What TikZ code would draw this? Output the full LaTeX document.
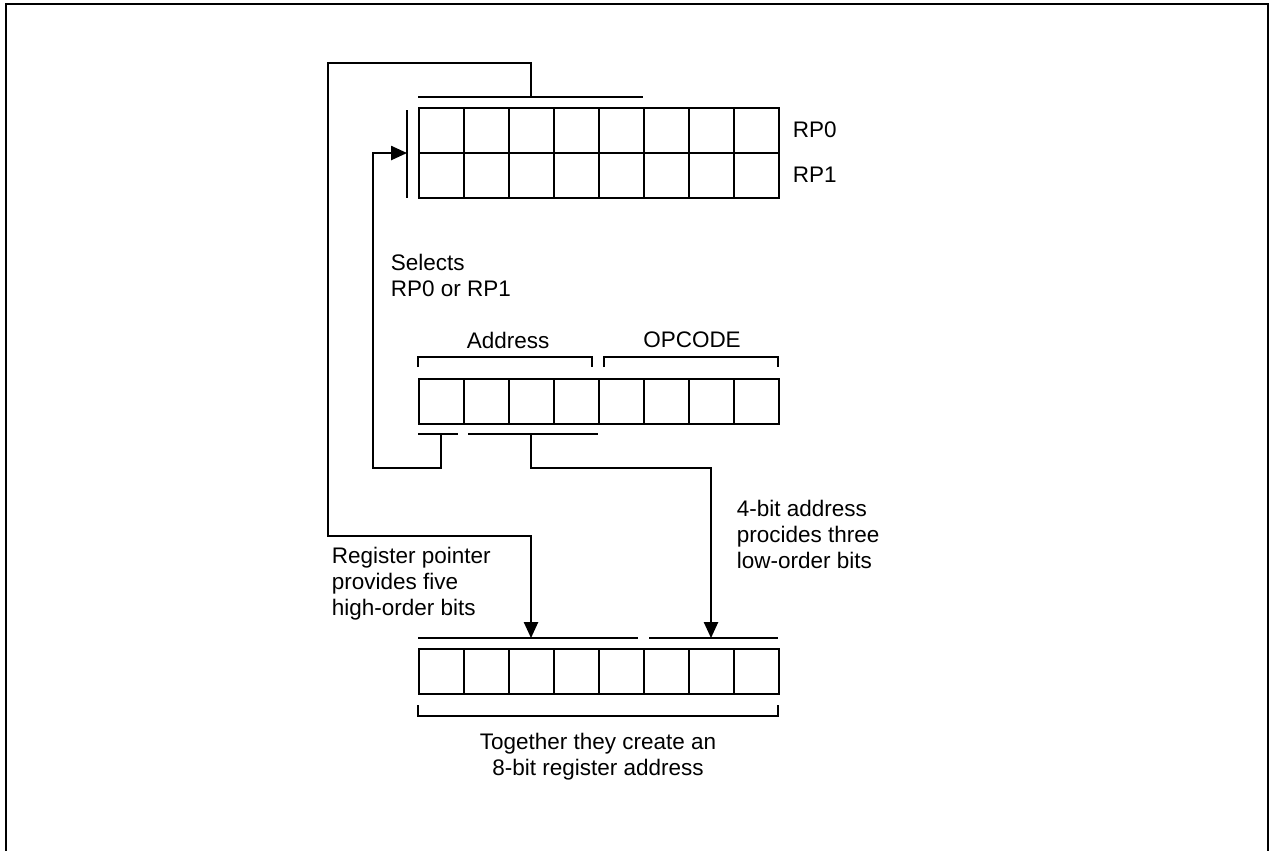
\documentclass[tikz,border=0pt]{standalone}
\usepackage{fontspec}
\setmainfont{Liberation Sans}
\usetikzlibrary{arrows.meta}

\begin{document}
\begin{tikzpicture}[x=0.02cm, y=-0.02cm, line width=1pt,
  every node/.style={font=\fontsize{12.8}{14.8}\selectfont, inner sep=0pt},
  cell/.style={draw, minimum size=0.9cm, anchor=north west},
  wire/.style={-{Triangle[length=9pt,width=8pt]}}]
\useasboundingbox (0,0) rectangle (1270,850);
% outer frame, open at the bottom
\draw[line width=1.3pt] (6,852) -- (6,4) -- (1268,4) -- (1268,852);
% register pair RP0 / RP1
\foreach \i in {0,...,7} {
  \node[cell] (rpa\i) at ({418+45*\i},107) {};
  \node[cell] (rpb\i) at ({418+45*\i},152) {};
}
\node[anchor=west] (rp0) at (792,130) {RP0};
\node[anchor=west] (rp1) at (792,175) {RP1};
\draw (418,97) -- (643,97);
\draw (407,110) -- (407,198);
\coordinate (rptap) at (531,97);
\coordinate (rpin) at (407,153);
% instruction: address + opcode
\foreach \i in {0,...,7}
  \node[cell] (ins\i) at ({418+45*\i},378) {};
\draw (418,367) -- (418,357) -- (592,357) -- (592,367);
\draw (604,367) -- (604,357) -- (778,357) -- (778,367);
\node (addr) at (508,340) {Address};
\node (opc) at (692,340) {OPCODE};
\draw (418,434) -- (458,434);
\draw (468,434) -- (598,434);
\coordinate (seltap) at (441,434);
\coordinate (lowtap) at (531,434);
\node[anchor=west, align=left] (sel) at (390,275) {Selects\\RP0 or RP1};
% resulting 8-bit register address
\foreach \i in {0,...,7}
  \node[cell] (out\i) at ({418+45*\i},648) {};
\draw (418,638) -- (638,638);
\draw (649,638) -- (778,638);
\draw (418,705) -- (418,716) -- (778,716) -- (778,705);
\coordinate (hiin) at (531,638);
\coordinate (loin) at (711,638);
\node[anchor=west, align=left] (hinote) at (331,584) {Register pointer\\provides five\\high-order bits};
\node[anchor=west, align=left] (lonote) at (736,534) {4-bit address\\procides three\\low-order bits};
\node[align=center] (total) at (598,757) {Together they create an\\8-bit register address};
% connectors
\draw[wire] (rptap) |- (328,63) |- (531,536) -- (hiin);
\draw[wire] (seltap) |- (373,468) |- (rpin);
\draw[wire] (lowtap) |- (711,468) -- (loin);
\end{tikzpicture}
\end{document}
